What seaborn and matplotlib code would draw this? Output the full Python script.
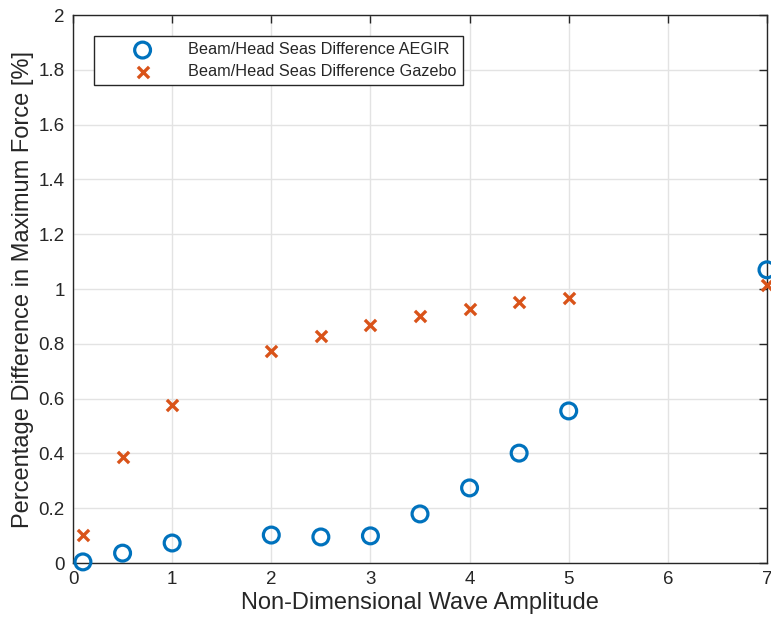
import matplotlib
matplotlib.use("Agg")
import matplotlib.pyplot as plt
import seaborn as sns
import pandas as pd

amplitude = [0.1, 0.5, 1, 2, 2.5, 3, 3.5, 4, 4.5, 5, 7]
aegir = [0.004, 0.036, 0.073, 0.102, 0.095, 0.099, 0.179, 0.274, 0.401, 0.555, 1.07]
gazebo = [0.102, 0.387, 0.577, 0.774, 0.828, 0.869, 0.901, 0.927, 0.953, 0.967, 1.015]
labels = ["Beam/Head Seas Difference AEGIR", "Beam/Head Seas Difference Gazebo"]
xticks = [0, 1, 2, 3, 4, 5, 6, 7]
yticks = [0, 0.2, 0.4, 0.6, 0.8, 1, 1.2, 1.4, 1.6, 1.8, 2]
yticklabels = ["0", "0.2", "0.4", "0.6", "0.8", "1", "1.2", "1.4", "1.6", "1.8", "2"]

sns.set_style("white")
plt.rcParams['font.family'] = ['Liberation Sans', 'DejaVu Sans']

blue = "#0072BD"
orange = "#D95319"
axcol = "#262626"

fig = plt.figure(figsize=(7.71, 6.25), dpi=100)
ax = fig.add_axes([0.0947, 0.0992, 0.9001, 0.8768])

df_a = pd.DataFrame({"x": amplitude, "y": aegir})
df_g = pd.DataFrame({"x": amplitude, "y": gazebo})

sns.scatterplot(data=df_a, x="x", y="y", ax=ax, marker="o", s=130,
                facecolors="none", edgecolor=blue, linewidth=2.3,
                label=labels[0], clip_on=False, zorder=3)
sns.scatterplot(data=df_g, x="x", y="y", ax=ax, marker="x", s=65,
                color=orange, linewidth=2.4, label=labels[1],
                clip_on=False, zorder=3)

ax.set_xlim(0, 7)
ax.set_ylim(0, 2)
ax.set_xticks(xticks)
ax.set_yticks(yticks)
ax.set_xticklabels([str(t) for t in xticks])
ax.set_yticklabels(yticklabels)
ax.grid(True, color="#e3e3e3", linewidth=1.0)
ax.set_axisbelow(True)
for sp in ax.spines.values():
    sp.set_color(axcol)
    sp.set_linewidth(1.0)
ax.tick_params(direction="in", length=6, width=1.0, colors=axcol, labelsize=13.5,
               top=True, right=True, labelcolor=axcol, pad=6)
ax.set_xlabel("Non-Dimensional Wave Amplitude", fontsize=17, color=axcol, labelpad=3)
ax.set_ylabel("Percentage Difference in Maximum Force [%]", fontsize=17, color=axcol, labelpad=3)

leg = ax.legend(loc="upper left", bbox_to_anchor=(0.030, 0.962), fontsize=11.7,
                frameon=True, fancybox=False, edgecolor=axcol, framealpha=1,
                handlelength=5.2, handletextpad=0.2, borderpad=0.4,
                labelspacing=0.4, borderaxespad=0)
leg.get_frame().set_linewidth(1.0)
for t in leg.get_texts():
    t.set_color(axcol)

fig.savefig("out.png", dpi=100)
